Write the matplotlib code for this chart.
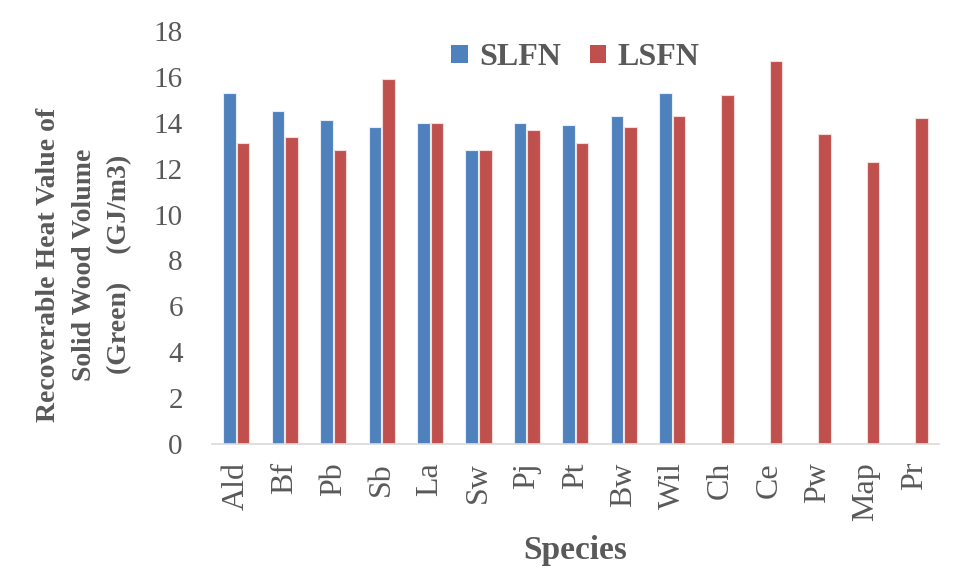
import matplotlib.pyplot as plt
import numpy as np
from matplotlib.patches import Patch

species = ['Ald', 'Bf', 'Pb', 'Sb', 'La', 'Sw', 'Pj', 'Pt', 'Bw', 'Wil',
           'Ch', 'Ce', 'Pw', 'Map', 'Pr']
slfn = [15.3, 14.5, 14.1, 13.8, 14.0, 12.8, 14.0, 13.9, 14.3, 15.3,
        np.nan, np.nan, np.nan, np.nan, np.nan]
lsfn = [13.1, 13.4, 12.8, 15.9, 14.0, 12.8, 13.7, 13.1, 13.8, 14.3,
        15.2, 16.7, 13.5, 12.3, 14.2]
y_ticks = [0, 2, 4, 6, 8, 10, 12, 14, 16, 18]

blue = '#4F81BD'
red = '#C0504D'
text_grey = '#595959'

plt.rcParams['font.family'] = ['Liberation Serif', 'DejaVu Serif']

fig = plt.figure(figsize=(9.55, 5.77), dpi=100)
ax = fig.add_axes([0.222, 0.2305, 0.761, 0.7158])

x = np.arange(len(species))
w = 0.26
ax.bar(x - 0.14, slfn, w, color=blue, edgecolor='#E8EEF7', linewidth=0.8)
ax.bar(x + 0.14, lsfn, w, color=red, edgecolor='#F3DCDB', linewidth=0.8)

ax.set_xlim(-0.5, len(species) - 0.5)
ax.set_ylim(0, 18)
ax.set_yticks(y_ticks)
ax.set_xticks(x)
ax.set_xticklabels(species, rotation=90)
ax.tick_params(axis='both', length=0, colors=text_grey)
ax.tick_params(axis='y', pad=21, labelsize=21)
ax.tick_params(axis='x', pad=13, labelsize=23)

for side in ['top', 'right', 'left']:
    ax.spines[side].set_visible(False)
ax.spines['bottom'].set_color('#D9D9D9')
ax.spines['bottom'].set_linewidth(1.2)

ax.set_xlabel('Species', fontsize=24, fontweight='bold', color=text_grey, labelpad=10)
fig.text(0.088, 0.541, 'Recoverable Heat Value of\nSolid Wood Volume\n(Green)    (GJ/m3)',
         rotation=90, ha='center', va='center', fontsize=20, fontweight='bold',
         color=text_grey, linespacing=1.55, multialignment='center')

handles = [Patch(facecolor=blue), Patch(facecolor=red)]
leg = ax.legend(handles, ['SLFN', 'LSFN'], loc='upper center', ncol=2, frameon=False,
                bbox_to_anchor=(0.5, 1.04), handlelength=0.52, handleheight=0.52,
                handletextpad=0.35, columnspacing=0.9,
                prop={'size': 23, 'weight': 'bold'})
for t in leg.get_texts():
    t.set_color(text_grey)

fig.savefig('out.png', dpi=100)
